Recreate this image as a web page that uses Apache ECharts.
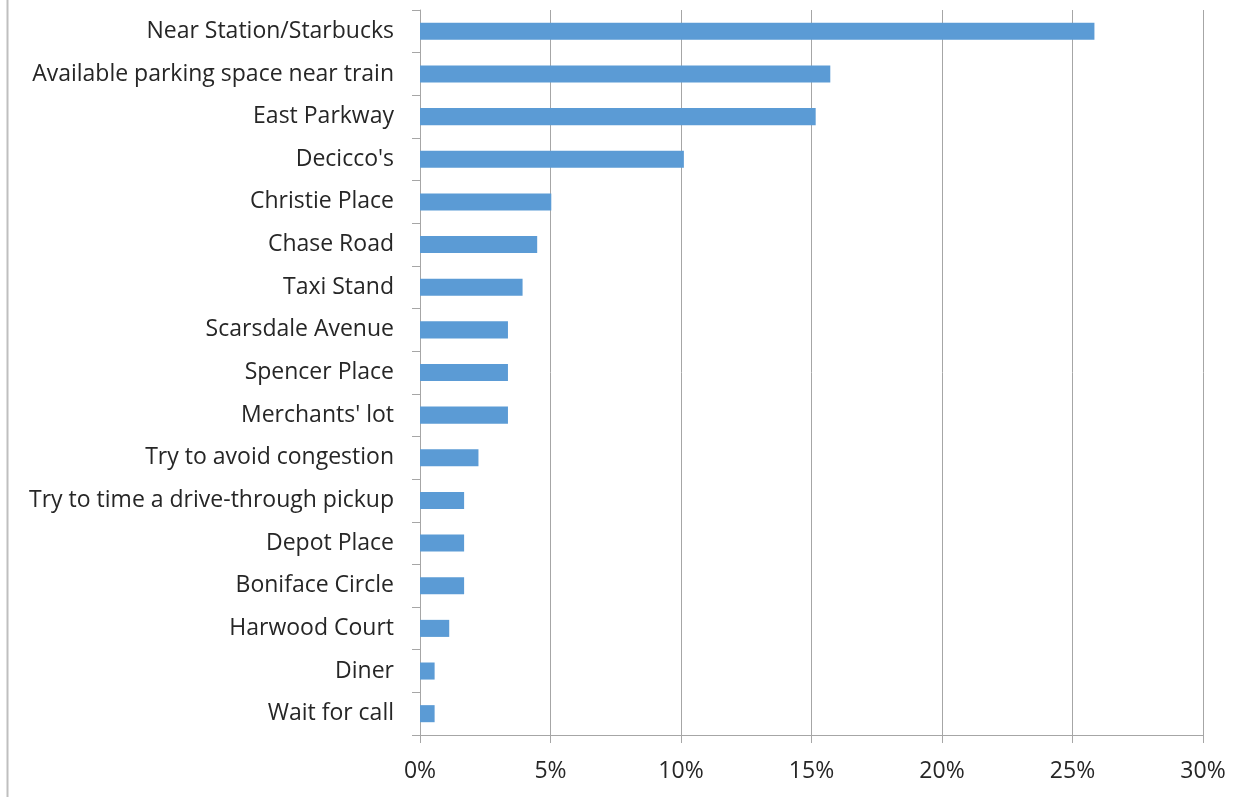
<!DOCTYPE html>
<html>
<head>
<meta charset="utf-8">
<script src="https://cdn.jsdelivr.net/npm/echarts@6/dist/echarts.min.js"></script>
<style>
html,body{margin:0;padding:0;background:#fff;}
#chart{width:1250px;height:797px;}
</style>
</head>
<body>
<div id="chart"></div>
<script>
const categories = [
  "Near Station/Starbucks",
  "Available parking space near train",
  "East Parkway",
  "Decicco's",
  "Christie Place",
  "Chase Road",
  "Taxi Stand",
  "Scarsdale Avenue",
  "Spencer Place",
  "Merchants' lot",
  "Try to avoid congestion",
  "Try to time a drive-through pickup",
  "Depot Place",
  "Boniface Circle",
  "Harwood Court",
  "Diner",
  "Wait for call"
];
const values = [25.84, 15.72, 15.16, 10.11, 5.03, 4.49, 3.93, 3.37, 3.37, 3.37, 2.24, 1.69, 1.69, 1.69, 1.12, 0.56, 0.56];
const xTicks = { min: 0, max: 30, interval: 5 };

const FONT = '"Open Sans"';
const chart = echarts.init(document.getElementById('chart'), null, {renderer: 'canvas'});
chart.setOption({
  animation: false,
  backgroundColor: '#ffffff',
  grid: { left: 420, right: 47, top: 10, bottom: 62, containLabel: false },
  xAxis: {
    type: 'value',
    min: xTicks.min, max: xTicks.max, interval: xTicks.interval,
    axisLine: { show: true, lineStyle: { color: '#a6a6a6', width: 1 } },
    axisTick: { show: true, length: 8, lineStyle: { color: '#a6a6a6' } },
    splitLine: { show: true, lineStyle: { color: '#a6a6a6', width: 1 } },
    axisLabel: { formatter: '{value}%', color: '#262626', fontFamily: FONT, fontSize: 23, margin: 25 }
  },
  yAxis: {
    type: 'category',
    inverse: true,
    data: categories,
    axisLine: { show: true, lineStyle: { color: '#a6a6a6', width: 1 } },
    axisTick: { show: true, length: 8, inside: false, lineStyle: { color: '#a6a6a6' } },
    axisLabel: { color: '#262626', fontFamily: FONT, fontSize: 23, margin: 26, padding: [6, 0, 0, 0] }
  },
  series: [{
    type: 'bar',
    data: values,
    barCategoryGap: '60%',
    itemStyle: { color: '#5b9bd5' }
  }],
  graphic: [{
    type: 'line',
    shape: { x1: 7.5, y1: 0, x2: 7.5, y2: 797 },
    style: { stroke: '#bfbfbf', lineWidth: 2 }
  }]
});
</script>
</body>
</html>
